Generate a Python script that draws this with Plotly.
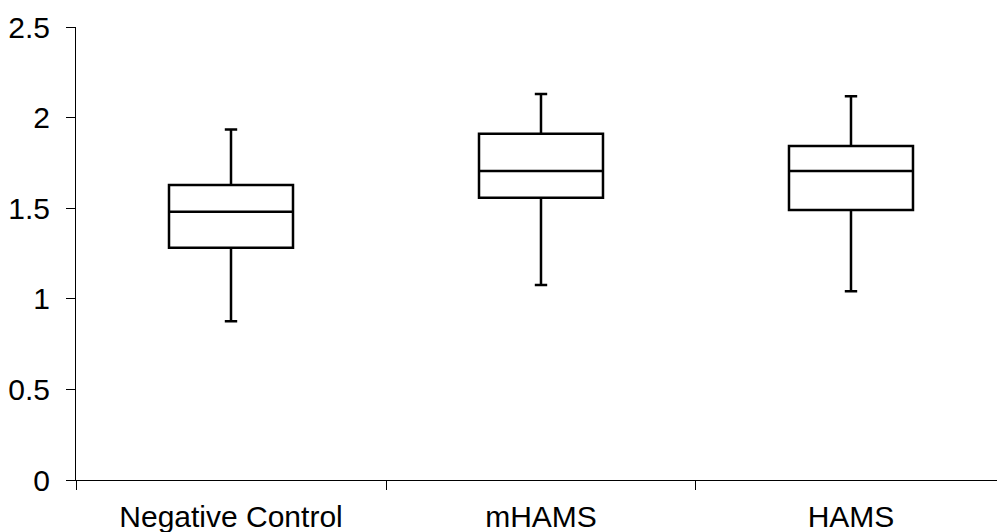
import plotly.graph_objects as go

categories = ["Negative Control", "mHAMS", "HAMS"]
lower_whisker = [0.876, 1.076, 1.041]
q1_values = [1.282, 1.558, 1.490]
median_values = [1.481, 1.705, 1.705]
q3_values = [1.628, 1.911, 1.843]
upper_whisker = [1.935, 2.130, 2.118]
y_tick_values = [0, 0.5, 1, 1.5, 2, 2.5]
y_tick_labels = ["0", "0.5", "1", "1.5", "2", "2.5"]

fig = go.Figure()
fig.add_trace(go.Box(
    x=categories,
    q1=q1_values,
    median=median_values,
    q3=q3_values,
    lowerfence=lower_whisker,
    upperfence=upper_whisker,
    width=0.4,
    whiskerwidth=0.1,
    fillcolor="white",
    line=dict(color="black", width=2.5),
    boxpoints=False,
    hoverinfo="skip",
    showlegend=False,
))

font = dict(family="Liberation Sans, Arial, sans-serif", size=30, color="black")

fig.update_layout(
    width=997,
    height=532,
    margin=dict(l=76, r=0, t=27, b=52, autoexpand=False),
    paper_bgcolor="white",
    plot_bgcolor="white",
    font=font,
    showlegend=False,
)
fig.update_xaxes(
    type="category",
    range=[-0.5, 2.471],
    tickson="boundaries",
    ticks="outside",
    ticklen=9,
    tickwidth=1,
    tickcolor="black",
    showline=True,
    linecolor="black",
    linewidth=1,
    showgrid=False,
    zeroline=False,
    tickfont=font,
    ticklabelstandoff=10,
    automargin=False,
)
fig.update_yaxes(
    range=[0, 2.5],
    tickvals=y_tick_values,
    ticktext=y_tick_labels,
    ticks="outside",
    ticklen=9,
    tickwidth=1,
    tickcolor="black",
    showline=True,
    linecolor="black",
    linewidth=1,
    showgrid=False,
    zeroline=False,
    tickfont=font,
    ticklabelstandoff=10,
    automargin=False,
)

fig.write_html(
    "out.html",
    config={"displayModeBar": False},
    post_script="document.body.style.margin='0';document.body.style.overflow='hidden';",
)
